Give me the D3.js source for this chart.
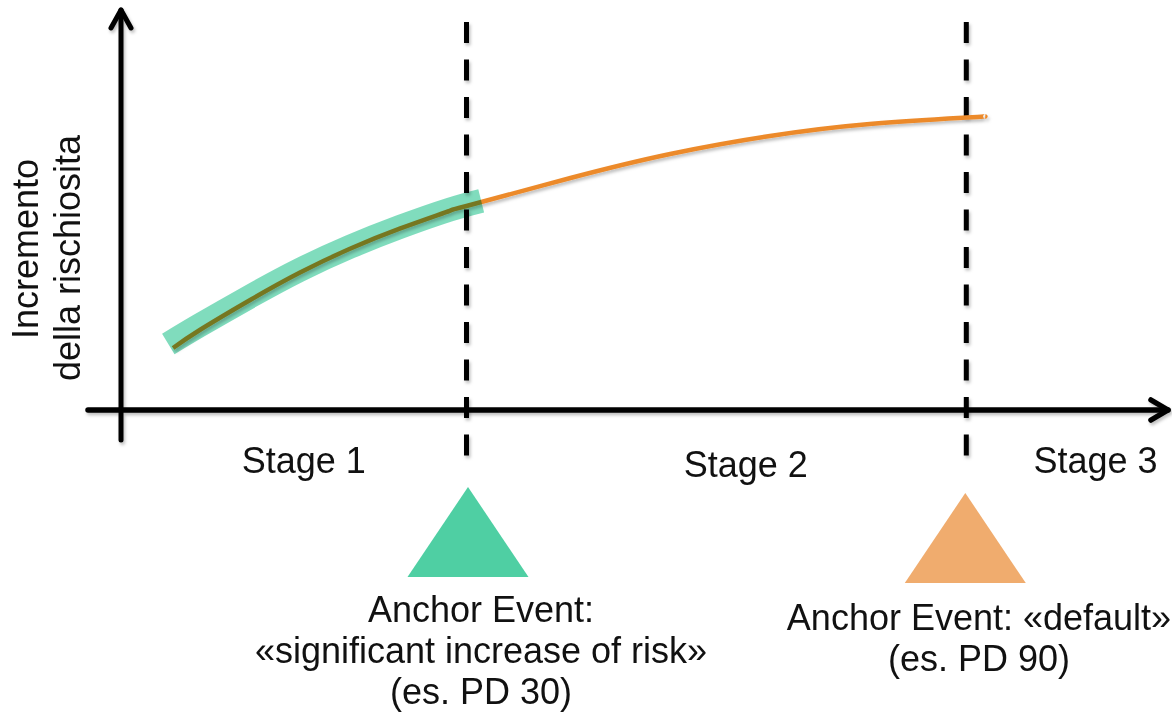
<!DOCTYPE html>
<html>
<head>
<meta charset="utf-8">
<script src="https://cdn.jsdelivr.net/npm/d3@7"></script>
<style>
    body { margin: 0; background: #fff; }
    text { font-family: "Liberation Sans", Arial, sans-serif; fill: #111; }
</style>
</head>
<body>
<div id="chart"></div>
<script>
// risk curve (time units 0-100, risk units 0-100)
const curveT = [5.05, 7.6, 12.4, 17.1, 21.9, 26.7, 31.4, 33, 42.9, 52.4, 61.9, 71.4, 80.6, 82.4];
const curveV = [15.5, 20, 27.5, 34.3, 40.3, 45.4, 49.8, 51, 58, 64, 68.5, 71.5, 73.1, 73.4];

// highlighted stage 1 stretch of the curve
const bandT = [4.6, 7.6, 12.4, 17.1, 21.9, 26.7, 31.4, 34.4];
const bandV = [16.5, 21.2, 28.4, 35, 40.8, 45.8, 50.1, 52.3];

// anchor events (stage boundaries)
const anchorT = [33, 80.6];
const anchorColors = ["#4fcfa3", "#f0ac6e"];
const anchorLabels = [
    ["Anchor Event:", "«significant increase of risk»", "(es. PD 30)"],
    ["Anchor Event: «default»", "(es. PD 90)"]
];

const stageNames = ["Stage 1", "Stage 2", "Stage 3"];
const stageT = [17.5, 59.6, 92.9];

const yLabel = ["Incremento", "della rischiosita"];

const width = 1172, height = 722;

const svg = d3.select("#chart").append("svg")
    .attr("width", width)
    .attr("height", height);

const x = d3.scaleLinear().domain([0, 100]).range([120, 1170]);
const y = d3.scaleLinear().domain([0, 100]).range([410, 10]);

const defs = svg.append("defs");
const shadow = defs.append("filter").attr("id", "shadow")
    .attr("x", "-20%").attr("y", "-20%").attr("width", "140%").attr("height", "140%");
shadow.append("feDropShadow")
    .attr("dx", 1.5).attr("dy", 2.5).attr("stdDeviation", 1.8)
    .attr("flood-color", "#000").attr("flood-opacity", 0.25);

// axes
const axes = svg.append("g").attr("filter", "url(#shadow)")
    .attr("stroke", "#000").attr("fill", "none")
    .attr("stroke-linecap", "round").attr("stroke-linejoin", "round");

axes.append("line")
    .attr("x1", x(0) + 1).attr("x2", x(0) + 1)
    .attr("y1", 440).attr("y2", 10)
    .attr("stroke-width", 5);
axes.append("path")
    .attr("d", `M${x(0) - 9},${28} L${x(0) + 1},${10} L${x(0) + 11},${28}`)
    .attr("stroke-width", 5);

axes.append("line")
    .attr("x1", 88).attr("x2", 1168)
    .attr("y1", y(0)).attr("y2", y(0))
    .attr("stroke-width", 5.5);
axes.append("path")
    .attr("d", `M1151,${y(0) - 10} L1168,${y(0)} L1151,${y(0) + 10}`)
    .attr("stroke-width", 5.5);

// dashed anchor lines
svg.append("g").attr("filter", "url(#shadow)")
    .selectAll("line").data(anchorT).join("line")
    .attr("x1", d => x(d)).attr("x2", d => x(d))
    .attr("y1", 22).attr("y2", 456)
    .attr("stroke", "#000")
    .attr("stroke-width", 5)
    .attr("stroke-dasharray", "21 16.5");

const line = d3.line()
    .x(d => x(d[0]))
    .y(d => y(d[1]))
    .curve(d3.curveNatural);

// curve
svg.append("path")
    .datum(d3.zip(curveT, curveV))
    .attr("d", line)
    .attr("fill", "none")
    .attr("stroke", "#ec8a2c")
    .attr("stroke-width", 4.5)
    .attr("filter", "url(#shadow)");

// stage 1 highlight
svg.append("path")
    .datum(d3.zip(bandT, bandV))
    .attr("d", line)
    .attr("fill", "none")
    .attr("stroke", "#4fcfa3")
    .attr("stroke-opacity", 0.72)
    .attr("stroke-width", 24)
    .style("mix-blend-mode", "multiply");

// stage labels
svg.append("g").selectAll("text").data(stageNames).join("text")
    .attr("x", (d, i) => x(stageT[i]))
    .attr("y", (d, i) => i === 1 ? 477 : 473)
    .attr("text-anchor", "middle")
    .attr("font-size", 36)
    .text(d => d);

// anchor triangles
svg.append("g").selectAll("path").data(anchorT).join("path")
    .attr("d", (d, i) => {
        const cx = x(d) + (i === 0 ? 1.5 : -1);
        const top = i === 0 ? 487 : 493;
        const base = top + 90;
        return `M${cx},${top} L${cx + 60.5},${base} L${cx - 60.5},${base} Z`;
    })
    .attr("fill", (d, i) => anchorColors[i]);

// anchor labels
const labelX = [481, 979];
const labelY = [622, 630];
anchorLabels.forEach((lines, i) => {
    svg.append("text")
        .attr("text-anchor", "middle")
        .attr("font-size", 36)
        .selectAll("tspan").data(lines).join("tspan")
        .attr("x", labelX[i])
        .attr("y", (d, j) => labelY[i] + j * 41)
        .text(d => d);
});

// y axis label
svg.append("text")
    .attr("transform", "translate(38,252) rotate(-90)")
    .attr("text-anchor", "middle")
    .attr("font-size", 36)
    .selectAll("tspan").data(yLabel).join("tspan")
    .attr("x", (d, i) => i === 0 ? 3 : -6)
    .attr("y", (d, i) => i * 42)
    .text(d => d);
</script>
</body>
</html>
